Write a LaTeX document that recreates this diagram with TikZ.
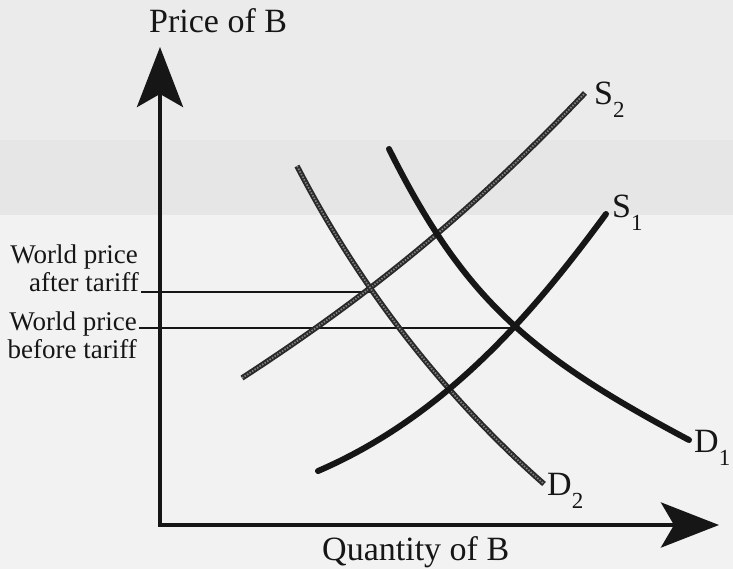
\documentclass[tikz,border=0pt]{standalone}
\usepackage{fontspec}
\setmainfont{Liberation Serif}
\usetikzlibrary{arrows.meta}
\definecolor{bgtop}{RGB}{235,235,235}
\definecolor{bgband}{RGB}{230,230,230}
\definecolor{bgmain}{RGB}{242,242,242}
\definecolor{ink}{RGB}{22,22,22}
\begin{document}
\begin{tikzpicture}[x=1pt,y=-1pt,
  axis/.style={draw=ink, line width=4.5pt, line join=miter},
  bold/.style={draw=ink, line width=6pt, line cap=round},
  rope/.style={draw=ink!92, line width=5.5pt, postaction={draw=white!50!black, line width=1.8pt, dash pattern=on 1.5pt off 1.5pt}},
  level/.style={draw=ink, line width=1.4pt},
  axlabel/.style={font=\fontsize{34}{38}\selectfont, inner sep=0pt, anchor=base west, text=ink},
  side/.style={font=\fontsize{27}{30}\selectfont, inner sep=0pt, anchor=base east, text=ink},
  clabel/.style={font=\fontsize{34}{38}\selectfont, inner sep=0pt, anchor=base west, text=ink}]
% background
\fill[bgmain] (0,0) rectangle (733,569);
\fill[bgtop] (0,0) rectangle (733,140);
\fill[bgband] (0,140) rectangle (733,215);
\useasboundingbox (0,0) rectangle (733,569);

% coordinates
\coordinate (O) at (160,525);
\coordinate (ytip) at (160,47);
\coordinate (xtip) at (719,525);
\coordinate (eA) at (370,292);
\coordinate (eB) at (517,328);
\coordinate (lA) at (141,292);
\coordinate (lB) at (139,328);

% price levels
\draw[level] (lA) -- (eA);
\draw[level] (lB) -- (eB);

% curves
\draw[rope] (242,378) .. controls (362,300) and (465,219) .. (585,93);   % S2
\draw[rope] (297,166) .. controls (364,296) and (452,403) .. (544,484);  % D2
\draw[bold] (318,471) .. controls (448,415) and (536,309) .. (606,214);  % S1
\draw[bold] (389,149) .. controls (464,299) and (529,355) .. (689,440);  % D1

% axes
\draw[axis, {Stealth[length=60pt,width=46pt,inset=13pt]}-{Stealth[length=58pt,width=45pt,inset=13pt]}] (ytip) -- (O) -- (xtip);

% labels
\node[axlabel] (py) at (149,33) {Price of B};
\node[axlabel] (qx) at (322,560) {Quantity of B};
\node[side] (wa1) at (138,263) {World price};
\node[side] (wa2) at (139,291) {after tariff};
\node[side] (wb1) at (137,330) {World price};
\node[side] (wb2) at (137,358) {before tariff};
\node[clabel] (s2) at (594,105) {S\raisebox{-13pt}{\fontsize{23}{23}\selectfont 2}};
\node[clabel] (s1) at (612,218) {S\raisebox{-13pt}{\fontsize{23}{23}\selectfont 1}};
\node[clabel] (d1) at (694,452) {D\raisebox{-13pt}{\fontsize{23}{23}\selectfont 1}};
\node[clabel] (d2) at (547,495) {D\raisebox{-13pt}{\fontsize{23}{23}\selectfont 2}};
\end{tikzpicture}
\end{document}
